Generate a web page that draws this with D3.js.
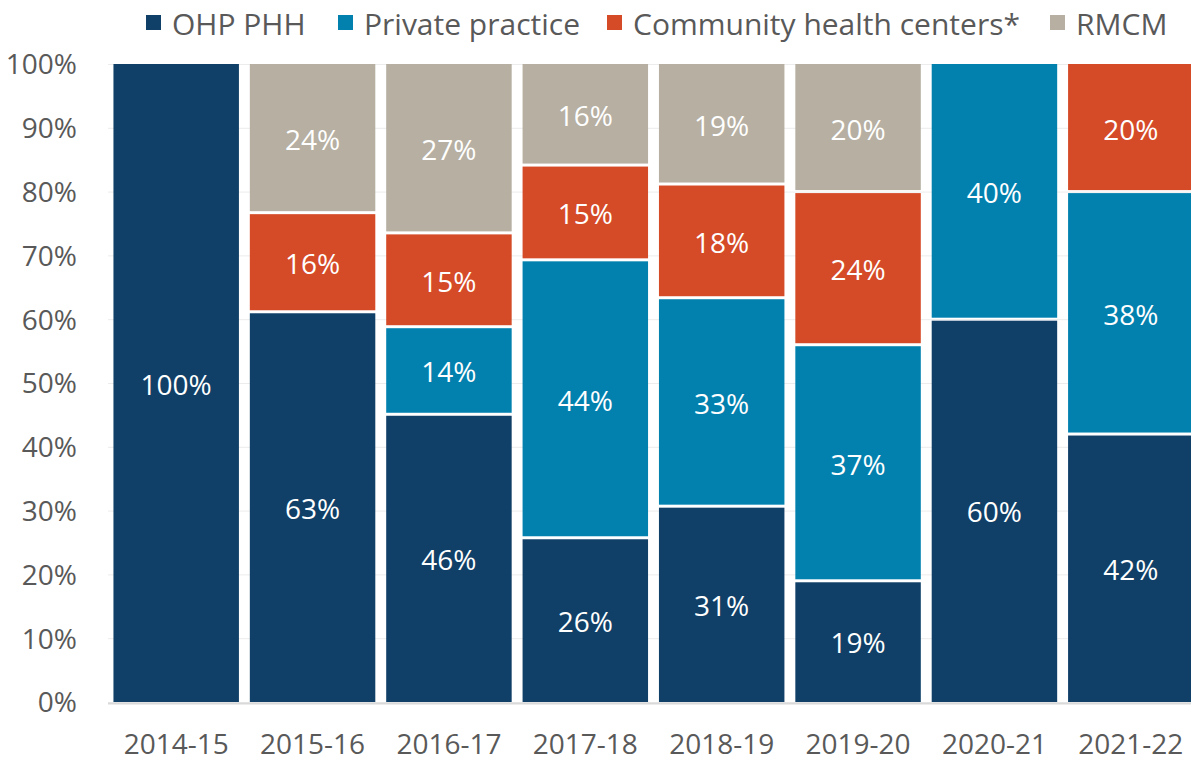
<!DOCTYPE html>
<html>
<head>
<meta charset="utf-8">
<script src="https://cdn.jsdelivr.net/npm/d3@7"></script>
<style>
  body { margin: 0; background: #fff; }
  svg text { font-family: "Segoe UI", "Open Sans", sans-serif; }
</style>
</head>
<body>
<svg id="chart" width="1191" height="762"></svg>
<script>
// category labels and series, values are the shown percentages (normalised per year for stacking)
const years = ["2014-15", "2015-16", "2016-17", "2017-18", "2018-19", "2019-20", "2020-21", "2021-22"];
const seriesNames = ["OHP PHH", "Private practice", "Community health centers*", "RMCM"];
const ohpPhh = [100, 63, 46, 26, 31, 19, 60, 42];
const privatePractice = [0, 0, 14, 44, 33, 37, 40, 38];
const communityHealth = [0, 16, 15, 15, 18, 24, 0, 20];
const rmcm = [0, 24, 27, 16, 19, 20, 0, 0];
const yTicks = [0, 0.1, 0.2, 0.3, 0.4, 0.5, 0.6, 0.7, 0.8, 0.9, 1];
const colors = ["#103f67", "#0281af", "#d54a27", "#b6afa2"];

const svg = d3.select("#chart");
const textColor = "#595959";

const x = d3.scaleBand().domain(years).range([108, 1199]).paddingInner(0.08).paddingOuter(0.04);
const y = d3.scaleLinear().domain([0, 1]).range([702, 64]);

// build table for the stack, each row normalised to 1
const raw = [ohpPhh, privatePractice, communityHealth, rmcm];
const table = years.map((yr, i) => {
    const row = { year: yr };
    const total = d3.sum(raw, s => s[i]);
    seriesNames.forEach((name, k) => {
        row[name] = raw[k][i] / total;
        row[name + "_label"] = raw[k][i];
    });
    return row;
});
const stacked = d3.stack().keys(seriesNames)(table);

// light gridlines
svg.append("g").selectAll("line")
    .data(yTicks)
    .enter()
    .append("line")
    .attr("x1", 108).attr("x2", 1191)
    .attr("y1", d => y(d) + 0.5).attr("y2", d => y(d) + 0.5)
    .attr("stroke", "#ececec")
    .attr("stroke-width", 1);

// y axis labels
const yAxis = d3.axisLeft(y).tickValues(yTicks).tickFormat(d3.format(".0%")).tickSize(0).tickPadding(0);
svg.append("g")
    .attr("transform", "translate(77,0)")
    .call(yAxis)
    .call(g => g.select(".domain").remove())
    .selectAll("text")
    .attr("fill", textColor)
    .style("font-size", "28px")
    .attr("dy", "0.35em");

// bars
const gap = 3;
const layers = svg.append("g").selectAll("g")
    .data(stacked)
    .enter()
    .append("g")
    .attr("fill", (d, i) => colors[i]);

layers.selectAll("rect")
    .data(d => d.filter(p => p[1] - p[0] > 0))
    .enter()
    .append("rect")
    .attr("x", d => x(d.data.year))
    .attr("width", x.bandwidth())
    .attr("y", d => y(d[1]) + (d[1] >= 0.999 ? 0 : gap / 2))
    .attr("height", d => y(d[0]) - y(d[1]) - (d[1] >= 0.999 ? gap / 2 : gap) + (d[0] <= 0.001 ? gap / 2 : 0));

// value labels
layers.each(function (s) {
    d3.select(this).selectAll("text")
        .data(s.filter(p => p[1] - p[0] > 0))
        .enter()
        .append("text")
        .attr("x", d => x(d.data.year) + x.bandwidth() / 2)
        .attr("y", d => y((d[0] + d[1]) / 2) + 2)
        .attr("dy", "0.35em")
        .attr("text-anchor", "middle")
        .attr("fill", "#ffffff")
        .style("font-size", "28px")
        .text(d => d.data[s.key + "_label"] + "%");
});

// x axis
const xAxis = d3.axisBottom(x).tickSize(0).tickPadding(0);
svg.append("g")
    .attr("transform", "translate(0,703)")
    .call(xAxis)
    .call(g => g.select(".domain").remove())
    .selectAll("text")
    .attr("fill", textColor)
    .style("font-size", "28px")
    .attr("dy", null)
    .attr("y", 51);

svg.append("line")
    .attr("x1", 108).attr("x2", 1191)
    .attr("y1", 703.5).attr("y2", 703.5)
    .attr("stroke", "#d9d9d9")
    .attr("stroke-width", 2);

// legend
const legendX = [146, 338, 607, 1050];
const legend = svg.append("g").selectAll("g")
    .data(seriesNames)
    .enter()
    .append("g")
    .attr("transform", (d, i) => `translate(${legendX[i]},0)`);
legend.append("rect")
    .attr("x", 0).attr("y", 15)
    .attr("width", 15).attr("height", 15)
    .attr("fill", (d, i) => colors[i]);
legend.append("text")
    .attr("x", 26).attr("y", 35)
    .attr("fill", textColor)
    .style("font-size", "30px")
    .text(d => d);
</script>
</body>
</html>
